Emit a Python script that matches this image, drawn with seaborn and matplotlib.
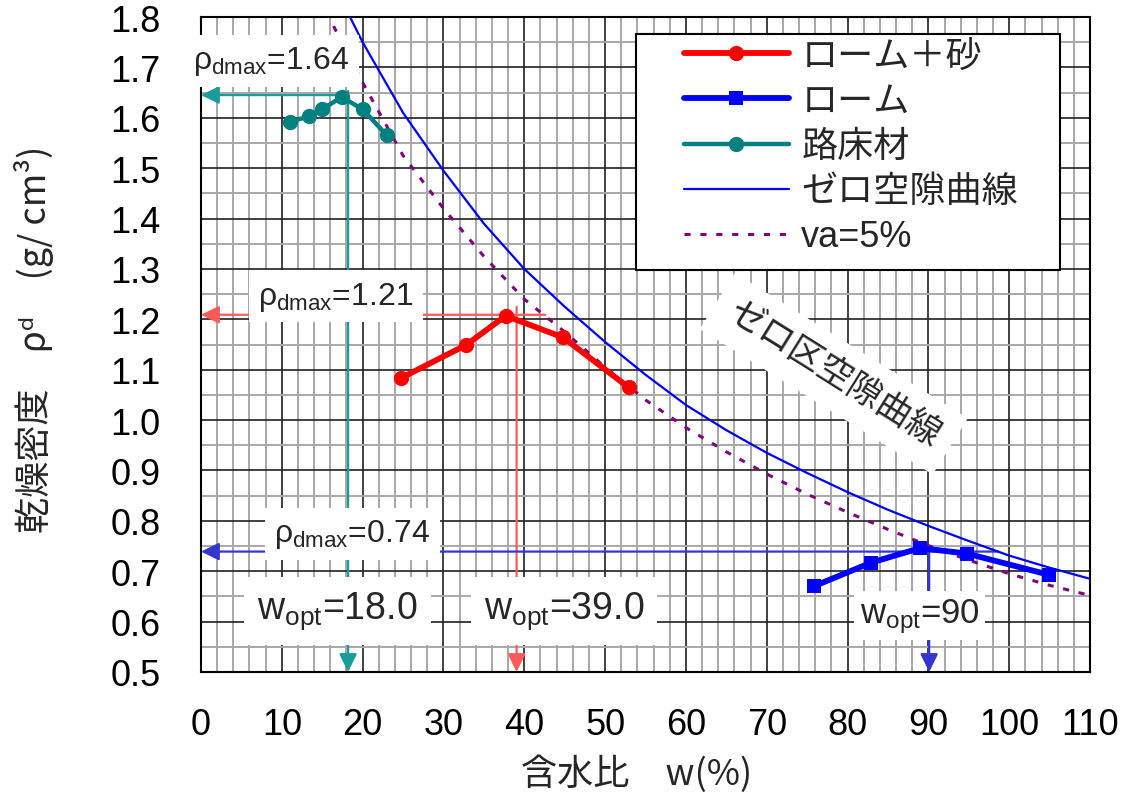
import matplotlib
matplotlib.use('Agg')
import matplotlib.pyplot as plt
import seaborn as sns
from matplotlib.ticker import MultipleLocator, FormatStrFormatter
from matplotlib.patches import Rectangle

sns.set_theme(style='white')
plt.rcParams['font.family'] = ['Liberation Sans', 'Noto Sans CJK JP', 'DejaVu Sans']
plt.rcParams['mathtext.fontset'] = 'custom'
plt.rcParams['mathtext.rm'] = 'Liberation Sans'
plt.rcParams['mathtext.it'] = 'Liberation Sans'
plt.rcParams['mathtext.bf'] = 'Liberation Sans:bold'

# ---- data ----
w_loam_sand = [24.7, 32.8, 37.7, 44.8, 52.9]
rho_loam_sand = [1.083, 1.149, 1.207, 1.164, 1.065]

w_loam = [75.8, 82.9, 89.0, 94.8, 104.9]
rho_loam = [0.670, 0.717, 0.746, 0.735, 0.693]

w_base = [11.0, 13.4, 15.0, 17.4, 20.0, 23.0]
rho_base = [1.592, 1.603, 1.617, 1.641, 1.617, 1.565]

w_zav = [17.5, 20, 25, 30, 35, 40, 45, 50, 55, 60, 65, 70, 75, 80, 85, 90, 95, 100, 105, 110]
rho_zav = [1.83, 1.75, 1.61, 1.495, 1.39, 1.30, 1.225, 1.155, 1.09, 1.03, 0.98, 0.935,
           0.895, 0.857, 0.822, 0.79, 0.76, 0.731, 0.707, 0.685]

w_va5 = [15.5, 20, 25, 30, 35, 40, 45, 50, 55, 60, 65, 70, 75, 80, 85, 90, 95, 100, 105, 110]
rho_va5 = [1.81, 1.67, 1.525, 1.42, 1.325, 1.24, 1.175, 1.105, 1.04, 0.985, 0.937, 0.893,
           0.853, 0.817, 0.783, 0.751, 0.722, 0.695, 0.672, 0.652]

series_labels = ['ローム＋砂', 'ローム', '路床材', 'ゼロ空隙曲線', 'va=5%']

# optimum values (w_opt, rho_dmax) and extents of the guide lines
opt_base = (18.2, 1.645)
opt_loam_sand = (39.05, 1.209)
opt_loam = (90.1, 0.739)

x_ticks = list(range(0, 111, 10))
y_ticks = [0.5, 0.6, 0.7, 0.8, 0.9, 1.0, 1.1, 1.2, 1.3, 1.4, 1.5, 1.6, 1.7, 1.8]

# ---- figure ----
fig = plt.figure(figsize=(11.44, 8.04), dpi=100)
fig.patch.set_facecolor('white')
ax = fig.add_axes([201/1144, 1-673/804, 889/1144, 655/804])
ax.set_facecolor('white')

ax.set_xlim(0, 110)
ax.set_ylim(0.5, 1.8)
ax.set_xticks(x_ticks)
ax.set_yticks(y_ticks)
ax.yaxis.set_major_formatter(FormatStrFormatter('%.1f'))
ax.xaxis.set_minor_locator(MultipleLocator(2))
ax.yaxis.set_minor_locator(MultipleLocator(0.05))
ax.set_axisbelow(True)
ax.grid(which='minor', color='#a8a8a8', lw=1.4, zorder=0)
ax.grid(which='major', color='#202020', lw=1.2, zorder=0.5)
ax.tick_params(which='major', direction='in', length=8, width=1.4, color='black',
               labelsize=26, labelcolor='black')
ax.tick_params(axis='x', pad=25)
ax.tick_params(axis='y', pad=29)
ax.tick_params(which='minor', length=0)
for s in ax.spines.values():
    s.set_color('black')
    s.set_linewidth(1.5)

# ---- guide lines with arrows ----
def guide(opt, top, hx_end, color):
    x0, y0 = opt
    ax.annotate('', xy=(0, y0), xytext=(hx_end, y0), annotation_clip=False,
                arrowprops=dict(arrowstyle='-|>,head_length=0.55,head_width=0.27',
                                color=color, lw=1.6, mutation_scale=20,
                                shrinkA=0, shrinkB=0), zorder=2)
    ax.annotate('', xy=(x0, 0.5), xytext=(x0, top), annotation_clip=False,
                arrowprops=dict(arrowstyle='-|>,head_length=0.55,head_width=0.27',
                                color=color, lw=1.6, mutation_scale=20,
                                shrinkA=0, shrinkB=0), zorder=2)

guide(opt_base, 1.653, opt_base[0], '#1a9c9c')
guide(opt_loam_sand, 1.225, 42.6, '#ff5a5a')
guide(opt_loam, 0.746, 98.6, '#3535d0')

# ---- curves ----
sns.lineplot(x=w_loam_sand, y=rho_loam_sand, ax=ax, color='#ff0000', lw=4.2,
             marker='o', markersize=11, markeredgewidth=0, estimator=None, sort=False,
             label=series_labels[0], zorder=4)
sns.lineplot(x=w_loam, y=rho_loam, ax=ax, color='#0000ff', lw=4.2,
             marker='s', markersize=10.5, markeredgewidth=0, estimator=None, sort=False,
             label=series_labels[1], zorder=4)
sns.lineplot(x=w_base, y=rho_base, ax=ax, color='#008080', lw=3.2,
             marker='o', markersize=11, markeredgewidth=0, estimator=None, sort=False,
             label=series_labels[2], zorder=4)
sns.lineplot(x=w_zav, y=rho_zav, ax=ax, color='#0000ff', lw=1.6, estimator=None,
             sort=False, label=series_labels[3], zorder=3)
sns.lineplot(x=w_va5, y=rho_va5, ax=ax, color='#800080', lw=2.2, estimator=None,
             sort=False, label=series_labels[4], zorder=3, linestyle=(0, (2.0, 3.2)))

# ---- annotation boxes ----
box = dict(boxstyle='square,pad=0.3', fc='white', ec='none')
ax.text(8.7, 1.713, r'$\rho_{\rm dmax}$=1.64', fontsize=23, ha='center', va='center',
        bbox=box, zorder=5)
ax.text(16.7, 1.246, r'$\rho_{\rm dmax}$=1.21', fontsize=23, ha='center', va='center',
        bbox=box, zorder=5)
ax.text(18.7, 0.774, r'$\rho_{\rm dmax}$=0.74', fontsize=23, ha='center', va='center',
        bbox=box, zorder=5)
ax.text(16.9, 0.622, r'w$_{\rm opt}$=18.0', fontsize=27, ha='center', va='center',
        bbox=dict(boxstyle='square,pad=0.35', fc='white', ec='none'), zorder=5)
ax.text(44.9, 0.622, r'w$_{\rm opt}$=39.0', fontsize=27, ha='center', va='center',
        bbox=dict(boxstyle='square,pad=0.35', fc='white', ec='none'), zorder=5)
ax.text(88.9, 0.612, r'w$_{\rm opt}$=90', fontsize=25, ha='center', va='center',
        bbox=dict(boxstyle='square,pad=0.15', fc='white', ec='none'), zorder=5)

ax.text(78.3, 1.092, 'ゼロ区空隙曲線', fontsize=25, rotation=-32, ha='center', va='center',
        rotation_mode='anchor', family=['Noto Sans CJK JP', 'DejaVu Sans'],
        bbox=dict(boxstyle='square,pad=0.45', fc='white', ec='none'), zorder=5)

# ---- axis labels ----
ax.set_xlabel('含水比　w(%)', fontsize=26, family=['Noto Sans CJK JP', 'DejaVu Sans'])
ax.xaxis.set_label_coords(0.49, -0.125)
ax.set_ylabel('乾燥密度　ρᵈ　(g/ cm³)', fontsize=26,
              family=['Noto Sans CJK JP', 'DejaVu Sans'])
ax.yaxis.set_label_coords(-0.165, 0.51)

# ---- legend ----
frame = Rectangle((636/1144, 1-271/804), (1060-636)/1144, (271-35)/804,
                  transform=fig.transFigure, fc='white', ec='black', lw=1.5,
                  clip_on=False, zorder=6)
ax.add_patch(frame)
leg = ax.legend(loc='upper left', bbox_to_anchor=(684/1144, 1-40/804),
                bbox_transform=fig.transFigure, frameon=False, borderpad=0,
                borderaxespad=0, handlelength=2.9, handletextpad=0.35,
                labelspacing=0.28, prop={'family': ['Liberation Sans', 'Noto Sans CJK JP'],
                                         'size': 26})
leg.set_zorder(7)

fig.savefig('out.png', dpi=100, facecolor='white')
